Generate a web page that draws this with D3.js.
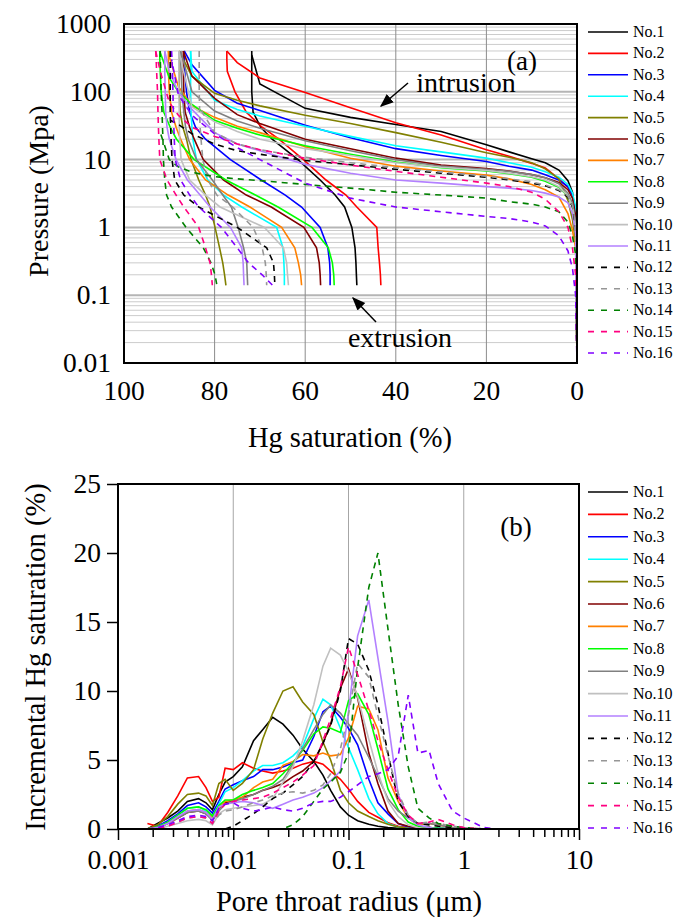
<!DOCTYPE html>
<html>
<head>
<meta charset="utf-8">
<script src="https://cdn.jsdelivr.net/npm/d3@7"></script>
<style>
body { margin: 0; background: #fff; }
text { font-family: "Liberation Serif", "Times New Roman", serif; fill: #000; }
</style>
</head>
<body>
<svg id="chart" width="681" height="918"></svg>
<script>
var svg = d3.select("#chart");

// ---- data ----
var samples = ["No.1","No.2","No.3","No.4","No.5","No.6","No.7","No.8","No.9","No.10","No.11","No.12","No.13","No.14","No.15","No.16"];
var colors = ["#000000","#ff0000","#0000ff","#00ffff","#808000","#800000","#ff8000","#00ff00","#808080","#c0c0c0","#b380ff","#000000","#969696","#008000","#ff0080","#8000ff"];

// (a) capillary pressure curves
var satTicks = [100, 80, 60, 40, 20, 0];
var pressureTicks = [1000, 100, 10, 1, 0.1, 0.01];
var satMax = [71.8, 77.3, 86.7, 85.3, 87.9, 86.9, 90.2, 92.1, 87.5, 87.9, 91.0, 89.8, 83.4, 92.0, 93.0, 89.5];
var kneeP = [350, 400, 400, 400, 400, 400, 400, 400, 400, 400, 400, 38, 60, 25, 400, 300];

var intrusionSat = [0, 0.3, 1, 2, 4, 7, 10, 15, 20, 30, 40, 50, 60, 70, 75, 80, 85, 88, 90, 92];
var intrusionP = [
  [0.01, 1.2, 3.3, 4.9, 7.0, 9.0, 10.3, 13.0, 16.5, 26, 33, 42, 57, 130, null, null, null, null, null, null],
  [0.01, 1.2, 3.0, 3.9, 5.2, 7.5, 8.8, 11.2, 14.0, 23, 35, 58, 98, 160, 270, null, null, null, null, null],
  [0.01, 1.8, 3.0, 4.0, 5.0, 6.0, 7.0, 8.0, 9.4, 11.5, 14.5, 21, 32, 53, 68, 105, 250, null, null, null],
  [0.01, 2.0, 3.2, 4.3, 5.5, 6.6, 7.7, 9.0, 10.5, 13.0, 16.0, 22, 31, 44, 55, 75, 200, null, null, null],
  [0.01, 0.6, 1.3, 2.5, 5.2, 7.3, 9.0, 10.8, 12.6, 18.0, 25, 34, 45, 62, 75, 95, 170, null, null, null],
  [0.01, 1.5, 2.7, 3.6, 4.6, 5.4, 6.0, 6.8, 7.4, 8.3, 10.5, 14.5, 20, 34, 46, 80, 170, null, null, null],
  [0.01, 0.5, 0.9, 1.6, 2.8, 3.6, 4.3, 5.2, 5.9, 6.8, 8.0, 10.5, 15.5, 25, 31, 42, 62, 120, 330, null],
  [0.01, 1.0, 2.0, 2.9, 3.9, 4.8, 5.5, 6.2, 6.8, 7.6, 9.2, 12, 16, 23, 29, 38, 65, 100, 160, 380],
  [0.01, 1.2, 2.3, 3.2, 4.4, 5.4, 6.0, 6.7, 7.2, 8.0, 10.0, 13.5, 19, 29, 37, 52, 100, null, null, null],
  [0.01, 1.0, 2.0, 2.9, 4.0, 5.0, 5.6, 6.3, 6.9, 7.7, 9.0, 11.5, 14.5, 20, 26, 36, 60, null, null, null],
  [0.01, 0.8, 1.6, 2.3, 2.8, 3.2, 3.5, 3.8, 4.0, 4.5, 5.0, 6.3, 8.5, 13.5, 17, 25, 55, 100, 200, null],
  [0.01, 1.0, 2.0, 2.8, 3.5, 4.1, 4.5, 5.0, 5.5, 6.3, 7.2, 8.4, 9.7, 12, 13.5, 17, 24, 33, null, null],
  [0.01, 1.1, 2.1, 2.9, 3.6, 4.2, 4.7, 5.2, 5.7, 6.6, 7.6, 9.0, 10.8, 14, 17, 25, null, null, null, null],
  [0.01, 0.4, 0.75, 1.2, 1.7, 2.0, 2.2, 2.4, 2.7, 3.0, 3.3, 3.8, 4.3, 4.9, 5.2, 5.6, 6.5, 7.8, 10, null],
  [0.01, 0.2, 0.5, 1.0, 1.7, 2.6, 3.3, 4.0, 4.5, 5.5, 6.7, 8.3, 10.5, 14, 17, 22, 30, 45, 70, 200],
  [0.01, 0.1, 0.25, 0.45, 0.75, 1.05, 1.2, 1.35, 1.45, 1.7, 2.0, 2.7, 4.5, 10, 15, 24, 45, 90, null, null]
];

var extrusionP = [400, 300, 200, 100, 50, 30, 20, 10, 5, 3, 2, 1, 0.5, 0.3, 0.2, 0.14];
var extrusionSat = [
  [71.8, 71.8, 71.8, 71.8, 71.5, 69.8, 67.3, 61.6, 56.7, 53.4, 51.3, 49.7, 49.0, 48.8, 48.7, 48.6],
  [77.3, 77.3, 77.2, 75.5, 73.0, 69.5, 65.8, 60.4, 55.4, 51.0, 48.6, 44.2, 43.9, 43.6, 43.4, 43.3],
  [86.7, 86.7, 86.6, 86.2, 85.5, 84.2, 82.0, 76.5, 69.7, 64.4, 60.8, 56.7, 55.0, 54.6, 54.5, 54.5],
  [85.3, 85.3, 85.3, 85.3, 85.2, 85.0, 84.8, 84.0, 81.5, 78.0, 74.0, 66.3, 64.9, 64.7, 64.6, 64.6],
  [87.9, 87.9, 87.9, 87.8, 87.6, 87.0, 86.2, 85.2, 83.5, 82.0, 81.0, 79.9, 78.9, 78.2, 77.8, 77.5],
  [86.9, 86.9, 86.9, 86.8, 86.5, 85.5, 84.5, 82.5, 78.0, 73.0, 67.5, 60.3, 57.5, 56.9, 56.7, 56.6],
  [90.2, 90.2, 90.2, 90.0, 89.5, 88.5, 87.5, 85.5, 82.0, 77.0, 72.2, 65.2, 62.3, 61.5, 61.0, 60.8],
  [92.1, 92.1, 92.0, 91.8, 91.2, 89.8, 88.4, 84.5, 77.5, 71.0, 66.0, 58.5, 54.9, 54.0, 53.7, 53.6],
  [87.5, 87.5, 87.4, 87.2, 86.8, 86.4, 85.8, 84.0, 80.5, 78.2, 76.3, 74.8, 73.6, 72.9, 72.8, 72.7],
  [87.9, 87.9, 87.9, 87.9, 87.8, 87.8, 87.7, 87.4, 85.5, 82.0, 78.8, 69.0, 64.8, 64.1, 63.9, 63.7],
  [91.0, 91.0, 91.0, 90.9, 90.8, 90.5, 90.0, 88.5, 86.0, 83.2, 81.0, 76.5, 74.0, 73.7, 73.6, 73.5],
  [89.8, 89.8, 89.8, 89.8, 89.8, 89.7, 89.6, 89.4, 88.8, 86.8, 83.5, 75.0, 68.5, 67.0, 66.8, 66.7],
  [83.4, 83.4, 83.4, 83.4, 83.3, 83.2, 83.0, 82.6, 81.5, 79.5, 76.0, 71.5, 69.5, 68.8, 68.6, 68.5],
  [92.0, 92.0, 91.9, 91.8, 91.6, 91.5, 91.4, 91.3, 91.0, 90.6, 89.5, 86.3, 82.5, 80.8, 79.9, 79.5],
  [93.0, 92.9, 92.8, 92.6, 92.5, 92.4, 92.3, 92.1, 90.5, 88.5, 86.8, 83.5, 82.0, 81.0, 80.7, 80.5],
  [89.5, 89.4, 89.3, 89.2, 89.1, 89.0, 88.9, 88.7, 87.5, 85.5, 83.5, 78.5, 75.0, 72.5, 69.5, 67.2]
];

// (b) pore throat distribution
var radiusTicks = [0.001, 0.01, 0.1, 1, 10];
var radiusTickLabels = ["0.001", "0.01", "0.1", "1", "10"];
var incTicks = [0, 5, 10, 15, 20, 25];
var radius = [0.0018, 0.0022, 0.0027, 0.0033, 0.004, 0.005, 0.0058, 0.0066, 0.0075, 0.0085, 0.01, 0.012, 0.015, 0.018, 0.022, 0.027, 0.033, 0.04, 0.05, 0.06, 0.07, 0.085, 0.1, 0.12, 0.15, 0.18, 0.22, 0.27, 0.33, 0.4, 0.5, 0.6, 0.8, 1, 1.5, 2, 3, 5, 10];
var increment = [
  [0, 0.4, 0.8, 1.3, 2.0, 2.2, 1.9, 1.4, 2.5, 3.4, 3.8, 4.5, 6.4, 7.2, 8.1, 7.6, 6.8, 5.8, 4.9, 3.9, 2.8, 1.6, 1.0, 0.6, 0.35, 0.2, 0.1, 0.05, 0, 0.05, 0.1, 0.05, 0, 0, 0, 0, 0, 0, 0],
  [0.4, 0.2, 1.2, 2.4, 3.7, 3.8, 3.0, 2.0, 2.3, 4.4, 4.3, 4.8, 4.4, 4.2, 4.05, 4.2, 4.4, 4.7, 4.9, 4.7, 4.2, 3.6, 2.9, 2.0, 1.2, 0.85, 0.45, 0.2, 0.1, 0.05, 0.1, 0.05, 0, 0, 0, 0, 0, 0, 0],
  [0, 0.2, 0.6, 1.1, 1.7, 1.9, 1.6, 1.15, 2.0, 2.9, 3.2, 3.5, 3.8, 4.3, 4.3, 4.5, 4.8, 5.0, 6.7, 8.5, 8.9, 8.1, 7.3, 6.1, 3.6, 1.9, 1.1, 0.4, 0.15, 0.1, 0.1, 0.05, 0, 0, 0, 0, 0, 0, 0],
  [0, 0.15, 0.5, 1.0, 1.5, 1.6, 1.3, 0.9, 1.8, 2.7, 3.0, 3.5, 4.2, 4.6, 4.6, 4.8, 5.3, 6.0, 8.0, 9.4, 9.0, 7.3, 5.9, 4.3, 2.2, 1.1, 0.4, 0.15, 0.05, 0, 0.05, 0.05, 0, 0, 0, 0, 0, 0, 0],
  [0, 0.3, 0.9, 1.8, 2.5, 2.6, 2.4, 1.7, 3.3, 3.6, 2.8, 3.3, 4.3, 6.5, 8.4, 10.0, 10.3, 9.2, 8.3, 6.3, 5.0, 2.8, 1.9, 1.3, 0.9, 0.6, 0.35, 0.15, 0.05, 0, 0.05, 0, 0, 0, 0, 0, 0, 0, 0],
  [0, 0.1, 0.4, 0.8, 1.2, 1.3, 1.1, 0.7, 1.5, 1.9, 2.0, 2.3, 2.5, 2.8, 3.0, 3.3, 3.8, 4.2, 4.9, 6.2, 7.6, 10.2, 11.6, 9.5, 5.5, 3.3, 1.3, 0.4, 0.2, 0.1, 0.1, 0, 0, 0, 0, 0, 0, 0, 0],
  [0, 0.1, 0.4, 0.8, 1.3, 1.4, 1.2, 0.8, 1.5, 2.0, 2.1, 2.3, 3.0, 3.4, 3.6, 4.6, 4.9, 5.4, 5.3, 5.5, 5.3, 5.4, 6.6, 8.9, 8.7, 7.2, 3.7, 2.0, 0.8, 0.3, 0.4, 0.3, 0.1, 0, 0, 0, 0, 0, 0],
  [0, 0.15, 0.5, 1.0, 1.5, 1.6, 1.4, 0.95, 1.7, 2.1, 2.1, 2.5, 2.8, 3.0, 3.3, 4.0, 4.8, 5.7, 6.9, 7.4, 7.3, 7.0, 9.3, 9.8, 8.3, 5.8, 2.9, 1.4, 0.5, 0.2, 0.1, 0.05, 0, 0, 0, 0, 0, 0, 0],
  [0, 0.1, 0.4, 0.8, 1.2, 1.3, 1.1, 0.6, 1.3, 1.8, 2.0, 2.2, 2.5, 2.8, 3.1, 3.6, 4.7, 5.8, 7.2, 8.3, 9.0, 8.4, 7.6, 6.8, 5.2, 3.8, 2.2, 1.3, 0.8, 0.4, 0.4, 0.3, 0.1, 0, 0, 0, 0, 0, 0],
  [0, 0, 0.2, 0.4, 0.6, 0.7, 0.6, 0.3, 1.1, 1.4, 1.5, 1.6, 1.7, 1.8, 2.2, 3.4, 4.5, 6.4, 9.0, 11.8, 13.1, 12.6, 11.4, 9.6, 6.5, 4.1, 2.0, 0.9, 0.3, 0.1, 0, 0, 0, 0, 0, 0, 0, 0, 0],
  [0, 0.1, 0.4, 0.9, 1.3, 1.4, 1.2, 0.7, 1.6, 1.8, 1.9, 2.0, 1.9, 1.7, 1.5, 1.8, 2.1, 2.3, 2.6, 3.0, 3.5, 4.2, 8.5, 14.0, 16.6, 12.4, 7.8, 2.5, 0.8, 0.3, 0.1, 0, 0, 0, 0, 0, 0, 0, 0],
  [null, null, null, null, null, null, null, null, null, 0, 0.2, 0.6, 1.1, 1.6, 2.2, 2.6, 3.2, 3.8, 4.9, 6.2, 7.5, 10.0, 13.8, 13.4, 11.5, 9.0, 5.5, 2.0, 0.9, 0.4, 0.3, 0.2, 0.1, 0, 0, 0, 0, 0, 0],
  [0, 0, 0.2, 0.5, 0.8, 0.9, 0.8, 0.4, 1.0, 1.3, 1.4, 1.6, 1.9, 2.1, 2.4, 2.6, 2.7, 2.6, 2.8, 3.2, 4.0, 5.8, 8.3, 12.0, 11.0, 8.2, 5.3, 2.6, 1.0, 0.4, 0.5, 0.4, 0.2, 0.1, 0, 0, 0, 0, 0],
  [null, null, null, null, 0, 0, 0, 0, 0, 0, 0, 0, 0, 0, 0, 0.02, 0.3, 0.9, 2.0, 2.9, 3.4, 4.1, 5.5, 11.7, 17.5, 20.0, 14.5, 9.0, 4.5, 1.5, 0.8, 0.4, 0.2, 0.1, 0, 0, 0, 0, 0],
  [0, 0.05, 0.2, 0.5, 0.8, 0.9, 0.8, 0.4, 1.3, 1.8, 2.0, 2.1, 2.2, 2.3, 2.6, 3.0, 3.4, 3.9, 4.6, 6.4, 8.0, 10.3, 13.2, 11.2, 8.6, 6.4, 4.3, 2.3, 1.0, 0.4, 0.5, 0.7, 0.3, 0.1, 0, 0, 0, 0, 0],
  [0, 0.1, 0.3, 0.6, 0.9, 1.0, 0.9, 0.6, 1.5, 1.8, 1.9, 1.5, 1.3, 1.4, 1.6, 1.4, 1.3, 1.5, 1.9, 2.0, 2.0, 2.3, 2.7, 3.2, 3.8, 4.0, 4.3, 5.3, 9.7, 5.5, 5.7, 3.3, 1.3, 0.8, 0.1, 0, 0, 0, 0]
];

function isDashed(i) { return i >= 11; }

// ---- (a) ----
var x = d3.scaleLinear().domain([100, 0]).range([124, 577]);
var y = d3.scaleLog().domain([0.01, 1000]).range([363, 24]);

var gA = svg.append("g");

// horizontal log grid
var minorP = [];
[0.01, 0.1, 1, 10, 100].forEach(function(d) {
  for (var k = 2; k <= 9; k++) minorP.push(d * k);
});
gA.selectAll("line.minor").data(minorP).enter().append("line")
  .attr("x1", 124).attr("x2", 577)
  .attr("y1", function(d) { return y(d); }).attr("y2", function(d) { return y(d); })
  .attr("stroke", "#cccccc").attr("stroke-width", 1);
gA.selectAll("line.major").data([0.1, 1, 10, 100]).enter().append("line")
  .attr("x1", 124).attr("x2", 577)
  .attr("y1", function(d) { return y(d); }).attr("y2", function(d) { return y(d); })
  .attr("stroke", "#b5b5b5").attr("stroke-width", 2);
gA.selectAll("line.vgrid").data([80, 60, 40, 20]).enter().append("line")
  .attr("x1", function(d) { return x(d); }).attr("x2", function(d) { return x(d); })
  .attr("y1", 24).attr("y2", 363)
  .attr("stroke", "#8c8c8c").attr("stroke-width", 1);

var lineA = d3.line()
  .x(function(d) { return x(d[0]); })
  .y(function(d) { return y(d[1]); });

samples.forEach(function(name, i) {
  var intr = [];
  intrusionSat.forEach(function(s, j) {
    if (intrusionP[i][j] != null) intr.push([s, intrusionP[i][j]]);
  });
  intr.push([satMax[i], kneeP[i]]);
  var extr = extrusionP.map(function(p, j) { return [extrusionSat[i][j], p]; });
  [intr, extr].forEach(function(pts) {
    gA.append("path")
      .attr("d", lineA(pts))
      .attr("fill", "none")
      .attr("stroke", colors[i])
      .attr("stroke-width", 1.6)
      .attr("stroke-dasharray", isDashed(i) ? "6,5" : null);
  });
});

gA.append("rect").attr("x", 124).attr("y", 24).attr("width", 453).attr("height", 339)
  .attr("fill", "none").attr("stroke", "#000").attr("stroke-width", 2);

gA.selectAll("text.xt").data(satTicks).enter().append("text")
  .attr("x", function(d) { return x(d); }).attr("y", 400)
  .attr("text-anchor", "middle").attr("font-size", 27.5)
  .text(function(d) { return d; });
gA.selectAll("text.yt").data(pressureTicks).enter().append("text")
  .attr("x", 111).attr("y", function(d) { return y(d) + 9; })
  .attr("text-anchor", "end").attr("font-size", 27.5)
  .text(function(d) { return d3.format("~g")(d); });

gA.append("text").attr("x", 350).attr("y", 447).attr("text-anchor", "middle")
  .attr("font-size", 28.5).text("Hg saturation (%)");
gA.append("text").attr("transform", "translate(38,191) rotate(-90)")
  .attr("text-anchor", "middle").attr("dy", "0.35em").attr("font-size", 28).text("Pressure (Mpa)");

gA.append("text").attr("x", 522).attr("y", 70).attr("text-anchor", "middle")
  .attr("font-size", 27).text("(a)");
gA.append("text").attr("x", 466).attr("y", 92).attr("text-anchor", "middle")
  .attr("font-size", 28).text("intrusion");
gA.append("text").attr("x", 400).attr("y", 347).attr("text-anchor", "middle")
  .attr("font-size", 28).text("extrusion");

svg.append("defs").append("marker")
  .attr("id", "arrow").attr("viewBox", "0 0 10 10").attr("refX", 9).attr("refY", 5)
  .attr("markerWidth", 9).attr("markerHeight", 9).attr("orient", "auto")
  .append("path").attr("d", "M0,1 L10,5 L0,9 Z").attr("fill", "#000");
gA.append("line").attr("x1", 408).attr("y1", 83).attr("x2", 381).attr("y2", 106)
  .attr("stroke", "#000").attr("stroke-width", 1.5).attr("marker-end", "url(#arrow)");
gA.append("line").attr("x1", 376).attr("y1", 322).attr("x2", 353).attr("y2", 298)
  .attr("stroke", "#000").attr("stroke-width", 1.5).attr("marker-end", "url(#arrow)");

// legend (a)
samples.forEach(function(name, i) {
  var ly = 32 + i * 21.4;
  gA.append("line").attr("x1", 588).attr("x2", 628).attr("y1", ly).attr("y2", ly)
    .attr("stroke", colors[i]).attr("stroke-width", 1.6)
    .attr("stroke-dasharray", isDashed(i) ? "6,7" : null);
  gA.append("text").attr("x", 633).attr("y", ly + 5).attr("font-size", 16).text(name);
});

// ---- (b) ----
var xb = d3.scaleLog().domain([0.001, 10]).range([118, 579]);
var yb = d3.scaleLinear().domain([0, 25]).range([829, 484]);
var gB = svg.append("g");

gB.selectAll("line.vg").data([0.01, 0.1, 1]).enter().append("line")
  .attr("x1", function(d) { return xb(d); }).attr("x2", function(d) { return xb(d); })
  .attr("y1", 484).attr("y2", 829).attr("stroke", "#a6a6a6").attr("stroke-width", 1);

var lineB = d3.line()
  .defined(function(d) { return d[1] != null; })
  .x(function(d) { return xb(d[0]); })
  .y(function(d) { return yb(d[1]); });

samples.forEach(function(name, i) {
  var pts = radius.map(function(r, j) { return [r, increment[i][j]]; });
  gB.append("path")
    .attr("d", lineB(pts))
    .attr("fill", "none")
    .attr("stroke", colors[i])
    .attr("stroke-width", 1.6)
    .attr("stroke-dasharray", isDashed(i) ? "6,5" : null);
});

gB.append("rect").attr("x", 118).attr("y", 484).attr("width", 461).attr("height", 345)
  .attr("fill", "none").attr("stroke", "#000").attr("stroke-width", 2);

var yAxisB = gB.append("g").attr("transform", "translate(118,0)")
  .call(d3.axisLeft(yb).tickValues(incTicks).tickSize(11).tickPadding(6));
yAxisB.select(".domain").remove();
yAxisB.selectAll("line").attr("stroke-width", 1.5);
yAxisB.selectAll("text").attr("font-size", 27.5).attr("font-family", null);

var minorR = [];
[0.001, 0.01, 0.1, 1].forEach(function(d) {
  for (var k = 2; k <= 9; k++) minorR.push(d * k);
});
var xMinor = gB.append("g").attr("transform", "translate(0,829)")
  .call(d3.axisBottom(xb).tickValues(minorR).tickSize(8).tickFormat(""));
xMinor.select(".domain").remove();
xMinor.selectAll("line").attr("stroke-width", 1.5);
var xMajor = gB.append("g").attr("transform", "translate(0,829)")
  .call(d3.axisBottom(xb).tickValues(radiusTicks).tickSize(11).tickPadding(9)
    .tickFormat(function(d, i) { return radiusTickLabels[i]; }));
xMajor.select(".domain").remove();
xMajor.selectAll("line").attr("stroke-width", 1.5);
xMajor.selectAll("text").attr("font-size", 27.5).attr("font-family", null);

gB.append("text").attr("x", 349).attr("y", 911).attr("text-anchor", "middle")
  .attr("font-size", 28.5).text("Pore throat radius (μm)");
gB.append("text").attr("transform", "translate(35,657) rotate(-90)")
  .attr("text-anchor", "middle").attr("dy", "0.35em").attr("font-size", 28.5)
  .text("Incremental Hg saturation (%)");
gB.append("text").attr("x", 516).attr("y", 536).attr("text-anchor", "middle")
  .attr("font-size", 27).text("(b)");

samples.forEach(function(name, i) {
  var ly = 492 + i * 22.4;
  gB.append("line").attr("x1", 588).attr("x2", 628).attr("y1", ly).attr("y2", ly)
    .attr("stroke", colors[i]).attr("stroke-width", 1.6)
    .attr("stroke-dasharray", isDashed(i) ? "6,7" : null);
  gB.append("text").attr("x", 633).attr("y", ly + 5).attr("font-size", 16).text(name);
});
</script>
</body>
</html>
